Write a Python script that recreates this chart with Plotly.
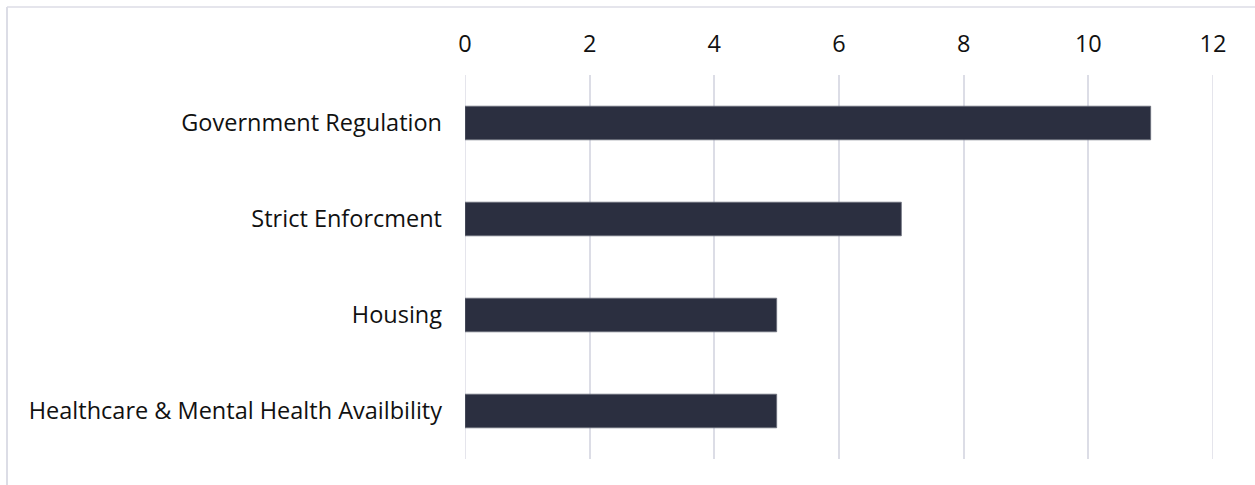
import plotly.graph_objects as go

categories = ["Government Regulation", "Strict Enforcment", "Housing",
              "Healthcare & Mental Health Availbility"]
values = [11, 7, 5, 5]
tick_vals = [0, 2, 4, 6, 8, 10, 12]

W, H = 1255, 485
L, R, T, B = 465, 1255 - 1213, 75, 485 - 459
pw, ph = W - L - R, H - T - B

fig = go.Figure(go.Bar(
    y=categories, x=values, orientation="h", width=0.35,
    marker=dict(color="#2B2F40", line=dict(color="#6A6D7A", width=0.8)),
))

def px_x(p):
    return (p - L) / pw

def px_y(p):
    return (H - B - p) / ph

border = "#DCDDE6"
fig.add_shape(type="line", xref="paper", yref="paper",
              x0=px_x(7), x1=px_x(1260), y0=px_y(7), y1=px_y(7),
              line=dict(color=border, width=1.5))
fig.add_shape(type="line", xref="paper", yref="paper",
              x0=px_x(7), x1=px_x(7), y0=px_y(7), y1=px_y(490),
              line=dict(color=border, width=2))
# gridlines at the range edges (plotly omits them)
for tv in (tick_vals[0], tick_vals[-1]):
    fig.add_shape(type="line", xref="x", yref="paper", x0=tv, x1=tv,
                  y0=0, y1=1, layer="below",
                  line=dict(color=border, width=1.5))

fig.update_layout(
    width=W, height=H,
    margin=dict(l=L, r=R, t=T, b=B),
    paper_bgcolor="white", plot_bgcolor="white",
    font=dict(family="Open Sans", size=23.5, color="#111111"),
    showlegend=False,
    bargap=0.65,
)
fig.update_xaxes(side="top", range=[0, 12], tickvals=tick_vals,
                 showgrid=True, gridcolor=border, gridwidth=1.5,
                 zeroline=False, showline=False, ticks="",
                 ticklabelstandoff=17, fixedrange=True)
fig.update_yaxes(categoryorder="array", categoryarray=categories[::-1],
                 showgrid=False, zeroline=False, showline=False, ticks="",
                 ticklabelstandoff=22, fixedrange=True)

fig.write_html("out.html", config={"displayModeBar": False},
               post_script="document.body.style.margin='0';document.body.style.overflow='hidden';")
